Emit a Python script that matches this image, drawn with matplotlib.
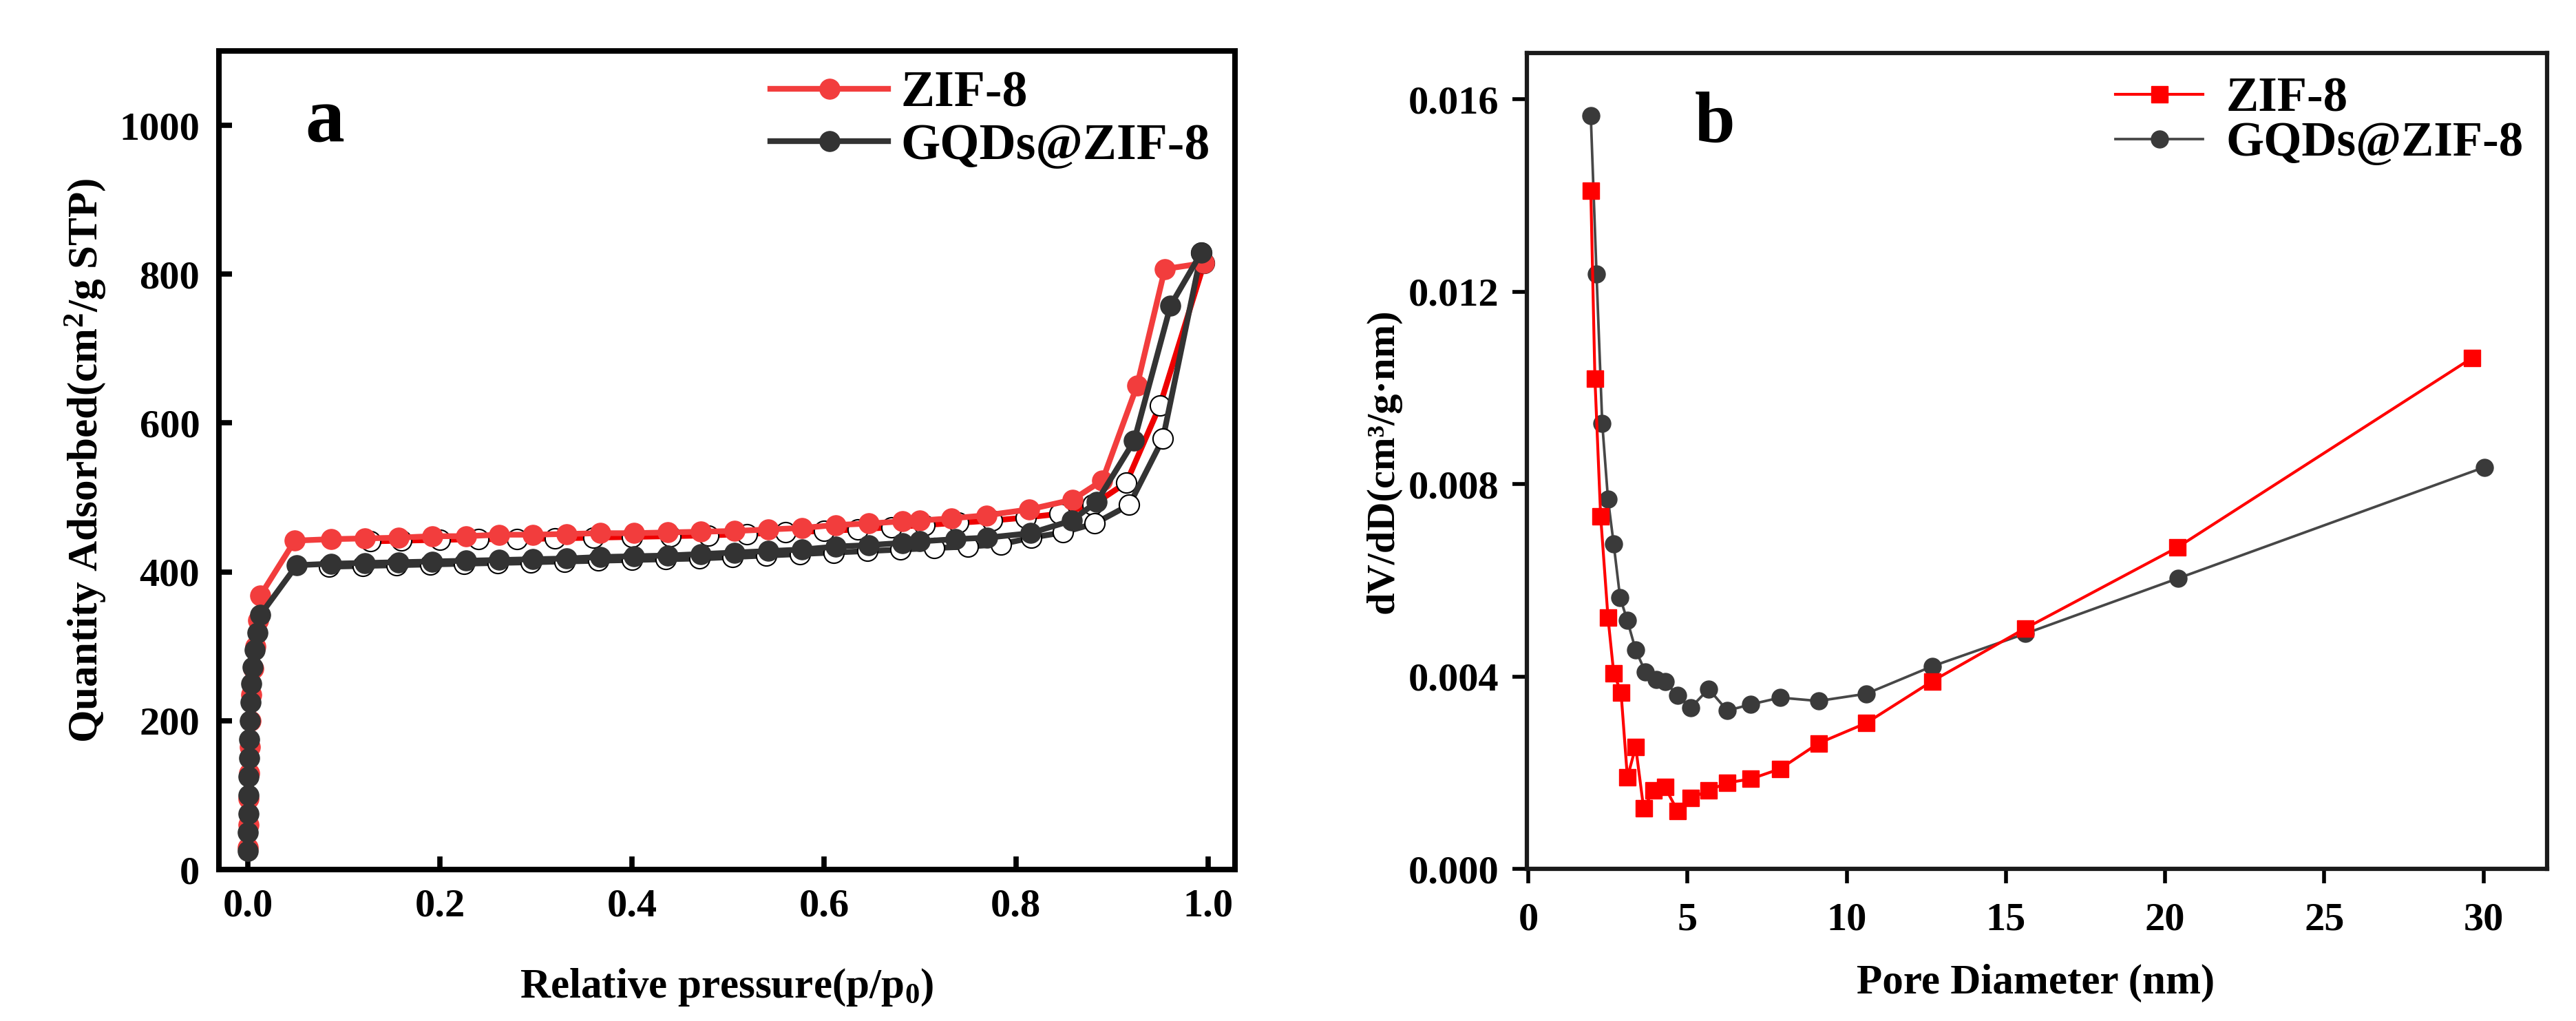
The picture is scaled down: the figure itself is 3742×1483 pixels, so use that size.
import matplotlib
matplotlib.use("Agg")
import matplotlib.pyplot as plt

plt.rcParams['font.family'] = ['Liberation Serif', 'DejaVu Serif']
plt.rcParams['font.weight'] = 'bold'
plt.rcParams['mathtext.fontset'] = 'custom'
plt.rcParams['mathtext.rm'] = 'Liberation Serif:bold'
plt.rcParams['mathtext.it'] = 'Liberation Serif:bold'
plt.rcParams['mathtext.default'] = 'rm'

# ---------------- Panel a: N2 isotherms ----------------
zif_ads_p = [0.0003, 0.0006, 0.001, 0.0015, 0.002, 0.003, 0.004, 0.006, 0.008, 0.011, 0.013,
             0.049, 0.087, 0.122, 0.157, 0.192, 0.227, 0.262, 0.297, 0.332, 0.367, 0.402,
             0.437, 0.472, 0.507, 0.542, 0.577, 0.612, 0.647, 0.682, 0.700, 0.733, 0.769,
             0.814, 0.859, 0.890, 0.926, 0.955, 0.996]
zif_ads_q = [30, 60, 95, 130, 165, 200, 235, 270, 300, 335, 368,
             442, 444, 445, 446, 448, 448, 450, 450, 451, 452, 452,
             453, 454, 455, 457, 459, 463, 465, 468, 469, 472, 476,
             484, 497, 523, 650, 807, 815]
zif_des_p = [0.996, 0.950, 0.915, 0.880, 0.845, 0.810, 0.775, 0.740, 0.705, 0.670, 0.635,
             0.600, 0.560, 0.520, 0.480, 0.440, 0.400, 0.360, 0.320, 0.280, 0.240, 0.200,
             0.160, 0.128]
zif_des_q = [815, 624, 520, 490, 478, 473, 469, 466, 463, 460, 457,
             455, 453, 451, 449, 448, 447, 446, 445, 444, 444, 443,
             442, 441]

gqd_ads_p = [0.0002, 0.0003, 0.0005, 0.0007, 0.001, 0.0013, 0.0017, 0.0022, 0.003, 0.004,
             0.005, 0.007, 0.010, 0.013,
             0.051, 0.087, 0.122, 0.157, 0.192, 0.227, 0.262, 0.297, 0.332, 0.367, 0.402,
             0.437, 0.472, 0.507, 0.542, 0.577, 0.612, 0.647, 0.682, 0.700, 0.737, 0.770,
             0.815, 0.858, 0.884, 0.923, 0.961, 0.993]
gqd_ads_q = [25, 50, 75, 100, 125, 150, 175, 200, 225, 250,
             272, 295, 318, 342,
             409, 411, 412, 413, 414, 415, 416, 417, 418, 420, 421,
             422, 424, 426, 428, 430, 434, 436, 439, 441, 444, 446,
             452, 469, 494, 576, 758, 829]
gqd_des_p = [0.993, 0.953, 0.918, 0.882, 0.849, 0.816, 0.784, 0.750, 0.715, 0.680, 0.645,
             0.610, 0.575, 0.540, 0.505, 0.470, 0.435, 0.400, 0.365, 0.330, 0.295, 0.260,
             0.225, 0.190, 0.155, 0.120, 0.085]
gqd_des_q = [829, 579, 490, 465, 453, 446, 437, 434, 432, 430, 428,
             426, 424, 422, 420, 418, 417, 416, 415, 414, 413, 412,
             411, 410, 409, 408, 407]

# ---------------- Panel b: pore size distribution ----------------
zif_D = [1.96, 2.09, 2.27, 2.50, 2.68, 2.91, 3.11, 3.37, 3.62, 3.93, 4.29, 4.69, 5.10,
         5.66, 6.25, 6.99, 7.91, 9.11, 10.61, 12.68, 15.61, 20.38, 29.64]
zif_v = [0.01410, 0.01019, 0.00733, 0.00523, 0.00407, 0.00367, 0.00190, 0.00254, 0.00126,
         0.00163, 0.00170, 0.00120, 0.00147, 0.00163, 0.00179, 0.00187, 0.00208, 0.00261,
         0.00303, 0.00390, 0.00500, 0.00668, 0.01062]
gqd_D = [1.96, 2.14, 2.32, 2.50, 2.68, 2.88, 3.11, 3.37, 3.67, 4.01, 4.29, 4.69, 5.10,
         5.66, 6.25, 6.99, 7.91, 9.11, 10.61, 12.68, 15.61, 20.41, 30.03]
gqd_v = [0.01566, 0.01237, 0.00926, 0.00769, 0.00675, 0.00564, 0.00516, 0.00455, 0.00410,
         0.00394, 0.00390, 0.00360, 0.00335, 0.00374, 0.00329, 0.00342, 0.00356, 0.00349,
         0.00364, 0.00421, 0.00489, 0.00604, 0.00835]

a_xticks = [0.0, 0.2, 0.4, 0.6, 0.8, 1.0]
a_yticks = [0, 200, 400, 600, 800, 1000]
b_xticks = [0, 5, 10, 15, 20, 25, 30]
b_yticks = [0.000, 0.004, 0.008, 0.012, 0.016]

RED_A = '#f23d3d'
RED_D = '#ee0000'
DARK = '#333333'
RED_B = '#ff0000'
GRAY_B = '#474747'

fig = plt.figure(figsize=(37.42, 14.83), dpi=100)

# ---- panel a ----
ax1 = fig.add_axes([0.085, 0.1483, 0.3944, 0.8018])
ax1.plot(zif_des_p, zif_des_q, '-o', color=RED_D, lw=6, ms=21, mfc='white', mec='black',
         mew=1.5, zorder=2)
ax1.plot(gqd_des_p, gqd_des_q, '-o', color=DARK, lw=6, ms=21, mfc='white', mec='black',
         mew=1.5, zorder=2)
ax1.plot(zif_ads_p, zif_ads_q, '-o', color=RED_A, lw=6, ms=21, mec=RED_A, label='ZIF-8', zorder=3)
ax1.plot(gqd_ads_p, gqd_ads_q, '-o', color=DARK, lw=6, ms=21, mec=DARK, label='GQDs@ZIF-8', zorder=4)
ax1.set_xlim(-0.030, 1.028)
ax1.set_ylim(0, 1100)
ax1.set_xticks(a_xticks)
ax1.set_xticklabels([f'{t:.1f}' for t in a_xticks])
ax1.set_yticks(a_yticks)
ax1.tick_params(axis='both', direction='in', length=14, width=5.5, labelsize=42, pad=20,
                top=False, right=False)
for s in ax1.spines.values():
    s.set_linewidth(5.8)
    s.set_color('black')
ax1.set_xlabel('Relative pressure(p/p$_0$)', fontsize=44, fontweight='bold')
ax1.set_ylabel('Quantity Adsorbed(cm$^2$/g STP)', fontsize=44, fontweight='bold')
ax1.xaxis.set_label_coords(0.50, -0.119)
ax1.yaxis.set_label_coords(-0.110, 0.5)
ax1.text(0.104, 0.913, 'a', transform=ax1.transAxes, fontsize=82, fontweight='bold',
         ha='center', va='center')
leg1 = ax1.legend(loc='upper left', bbox_to_anchor=(0.543, 0.976), frameon=False,
                  fontsize=53, handlelength=2.32, handletextpad=0.245, labelspacing=0.115,
                  borderpad=0, borderaxespad=0)

# ---- panel b ----
ax2 = fig.add_axes([0.5927, 0.1490, 0.3961, 0.7991])
ax2.plot(zif_D, zif_v, '-s', color=RED_B, lw=3, ms=17, mec=RED_B, label='ZIF-8', zorder=3)
ax2.plot(gqd_D, gqd_v, '-o', color=GRAY_B, lw=2.7, ms=18, mfc='#3a3a3a', mec='#3a3a3a',
         label='GQDs@ZIF-8', zorder=2)
ax2.set_xlim(-0.05, 32.0)
ax2.set_ylim(0, 0.01696)
ax2.set_xticks(b_xticks)
ax2.set_yticks(b_yticks)
ax2.set_yticklabels([f'{t:.3f}' for t in b_yticks])
ax2.tick_params(axis='both', direction='out', length=15, width=4, labelsize=42, pad=14,
                top=False, right=False)
ax2.tick_params(axis='x', pad=20)
for s in ax2.spines.values():
    s.set_linewidth(4.5)
    s.set_color('#1a1a1a')
ax2.set_xlabel('Pore Diameter (nm)', fontsize=44, fontweight='bold')
ax2.set_ylabel('dV/dD(cm³/g·nm)', fontsize=42, fontweight='bold')
ax2.xaxis.set_label_coords(0.499, -0.116)
ax2.yaxis.set_label_coords(-0.123, 0.5)
ax2.text(0.184, 0.912, 'b', transform=ax2.transAxes, fontsize=76, fontweight='bold',
         ha='center', va='center')
leg2 = ax2.legend(loc='upper left', bbox_to_anchor=(0.577, 0.971), frameon=False,
                  fontsize=51, handlelength=1.79, handletextpad=0.47, labelspacing=0.0,
                  borderpad=0, borderaxespad=0)

fig.savefig('out.png', dpi=100, facecolor='white')
